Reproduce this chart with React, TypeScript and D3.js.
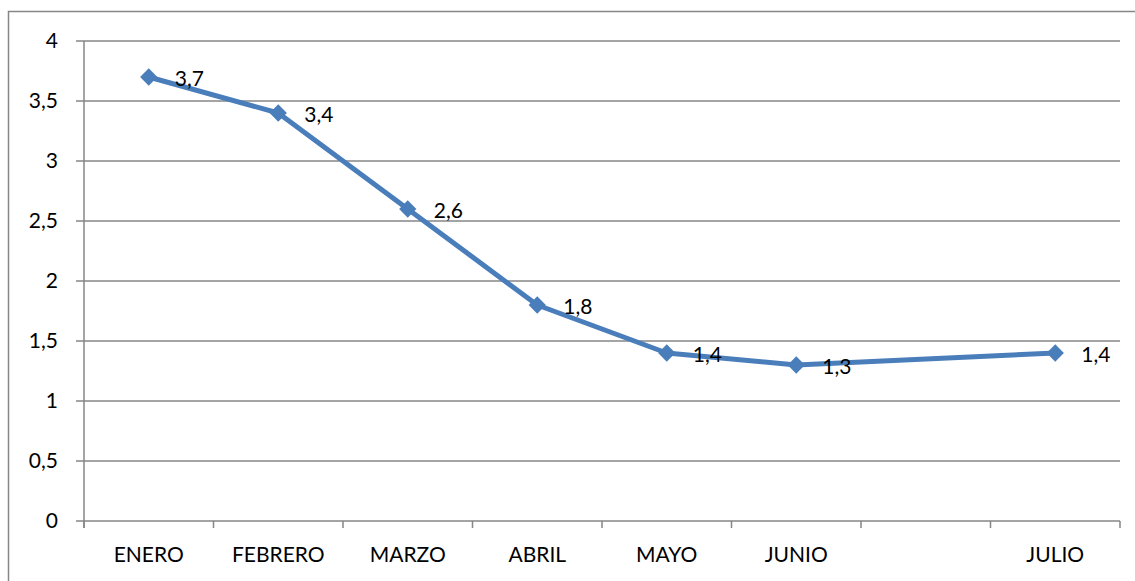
import React, { useEffect, useRef } from "react";
import * as d3 from "d3";

// Line chart: monthly values, Excel-style look.
const months = ["ENERO", "FEBRERO", "MARZO", "ABRIL", "MAYO", "JUNIO", "", "JULIO"];
const values: (number | null)[] = [3.7, 3.4, 2.6, 1.8, 1.4, 1.3, null, 1.4];
const yTicks = [0, 0.5, 1, 1.5, 2, 2.5, 3, 3.5, 4];

export default function App() {
  const ref = useRef<SVGSVGElement>(null);

  useEffect(() => {
    const svg = d3.select(ref.current);
    svg.selectAll("*").remove();

    const W = 1135;
    const H = 581;
    const margin = { top: 41, right: 15, bottom: 60, left: 84 };
    const font = "Lato, sans-serif";
    const grid = "#868686";

    svg.attr("width", W).attr("height", H);

    // outer chart-area frame (extends past the window on right / bottom)
    svg
      .append("rect")
      .attr("x", 8.5)
      .attr("y", 11.5)
      .attr("width", W + 20)
      .attr("height", H + 20)
      .attr("fill", "#fff")
      .attr("stroke", grid)
      .attr("stroke-width", 1.5);

    const x = d3
      .scaleBand()
      .domain(months.map((m, i) => String(i)))
      .range([margin.left, W - margin.right]);
    const y = d3
      .scaleLinear()
      .domain([0, 4])
      .range([H - margin.bottom, margin.top]);

    const g = svg.append("g");

    // horizontal gridlines
    g.selectAll(".grid")
      .data(yTicks)
      .join("line")
      .attr("x1", margin.left - 8)
      .attr("x2", W - margin.right)
      .attr("y1", (d) => y(d))
      .attr("y2", (d) => y(d))
      .attr("stroke", grid)
      .attr("stroke-width", 1.5);

    // y axis line
    g.append("line")
      .attr("x1", margin.left)
      .attr("x2", margin.left)
      .attr("y1", y(4))
      .attr("y2", y(0) + 7)
      .attr("stroke", grid)
      .attr("stroke-width", 1.5);

    // x ticks at band boundaries
    const bounds = months.map((m, i) => x(String(i))!).concat([W - margin.right]);
    g.selectAll(".xt")
      .data(bounds)
      .join("line")
      .attr("x1", (d) => d)
      .attr("x2", (d) => d)
      .attr("y1", y(0))
      .attr("y2", y(0) + 7)
      .attr("stroke", grid)
      .attr("stroke-width", 1.5);

    // y labels
    g.selectAll(".yl")
      .data(yTicks)
      .join("text")
      .attr("x", 58)
      .attr("y", (d) => y(d))
      .attr("dy", "0.35em")
      .attr("text-anchor", "end")
      .attr("font-family", font)
      .attr("font-size", "21px")
      .text((d) => String(d).replace(".", ","));

    // x labels
    g.selectAll(".xl")
      .data(months)
      .join("text")
      .attr("x", (d, i) => x(String(i))! + x.bandwidth() / 2)
      .attr("y", y(0) + 34)
      .attr("dy", "0.35em")
      .attr("text-anchor", "middle")
      .attr("font-family", font)
      .attr("font-size", "21px")
      .text((d) => d);

    const pts = values
      .map((v, i) => ({ v, i }))
      .filter((d) => d.v !== null) as { v: number; i: number }[];
    const cx = (d: { i: number }) => x(String(d.i))! + x.bandwidth() / 2;

    const line = d3
      .line<{ v: number; i: number }>()
      .x(cx)
      .y((d) => y(d.v));

    g.append("path")
      .datum(pts)
      .attr("d", line)
      .attr("fill", "none")
      .attr("stroke", "#4a7ebb")
      .attr("stroke-width", 5)
      .attr("stroke-linejoin", "round");

    const diamond = d3.symbol().type(d3.symbolDiamond2).size(190);
    g.selectAll(".pt")
      .data(pts)
      .join("path")
      .attr("d", diamond)
      .attr("transform", (d) => `translate(${cx(d)},${y(d.v)})`)
      .attr("fill", "#4a7ebb");

    g.selectAll(".dl")
      .data(pts)
      .join("text")
      .attr("x", (d) => cx(d) + 26)
      .attr("y", (d) => y(d.v) + 2)
      .attr("dy", "0.35em")
      .attr("font-family", font)
      .attr("font-size", "21px")
      .text((d) => String(d.v).replace(".", ","));
  }, []);

  return <svg ref={ref} style={{ position: "absolute", left: 0, top: 0 }} />;
}
